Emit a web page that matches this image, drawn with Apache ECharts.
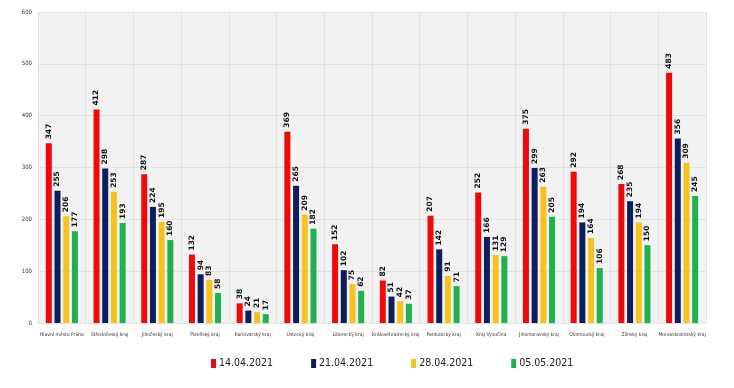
<!DOCTYPE html>
<html><head><meta charset="utf-8">
<script src="https://cdn.jsdelivr.net/npm/echarts@6/dist/echarts.min.js"></script>
<style>html,body{margin:0;padding:0;background:#fff}#c{width:734px;height:388px}</style>
</head><body><div id="c"></div>
<script>
const categories = ["Hlavní město Praha","Středočeský kraj","Jihočeský kraj","Plzeňský kraj","Karlovarský kraj","Ústecký kraj","Liberecký kraj","Královéhradecký kraj","Pardubický kraj","Kraj Vysočina","Jihomoravský kraj","Olomoucký kraj","Zlínský kraj","Moravskoslezský kraj"];
const seriesNames = ["14.04.2021","21.04.2021","28.04.2021","05.05.2021"];
const s1 = [347,412,287,132,38,369,152,82,207,252,375,292,268,483];
const s2 = [255,298,224,94,24,265,102,51,142,166,299,194,235,356];
const s3 = [206,253,195,83,21,209,75,42,91,131,263,164,194,309];
const s4 = [177,193,160,58,17,182,62,37,71,129,205,106,150,245];
const colors = ["#ee0a0a","#0c1f5c","#f6c21c","#1fb050"];
const values = [s1,s2,s3,s4];
const condensed = '"DejaVu Sans Condensed", "Liberation Sans", sans-serif';
const chart = echarts.init(document.getElementById('c'));
chart.setOption({
  animation:false,
  grid:{left:38,right:28,top:12,bottom:65,backgroundColor:'#f2f2f2',show:true,borderWidth:0},
  legend:{bottom:14,left:206,itemWidth:5,itemHeight:9,itemGap:38,icon:'rect',
    textStyle:{fontFamily:condensed,fontSize:10.5,color:'#222',padding:[0,0,0,-2]}},
  xAxis:{type:'category',data:categories,
    axisLine:{show:false},axisTick:{show:false},
    splitLine:{show:true,lineStyle:{color:'#e2e2e2',width:1}},
    axisLabel:{fontFamily:condensed,fontSize:5,color:'#333',interval:0,margin:9}},
  yAxis:{type:'value',min:0,max:600,interval:100,
    axisLine:{show:false},axisTick:{show:false},
    splitLine:{lineStyle:{color:'#e2e2e2',width:1}},
    axisLabel:{fontFamily:condensed,fontSize:6,color:'#333',margin:6}},
  series: seriesNames.map((n,i)=>({
    name:n,type:'bar',data:values[i],barWidth:6,barGap:'45%',
    itemStyle:{color:colors[i]},
    label:{show:true,position:'top',rotate:90,align:'left',verticalAlign:'middle',distance:4,
      fontFamily:'DejaVu Sans',fontWeight:'bold',fontSize:7.5,color:'#111'}
  }))
});
</script></body></html>
